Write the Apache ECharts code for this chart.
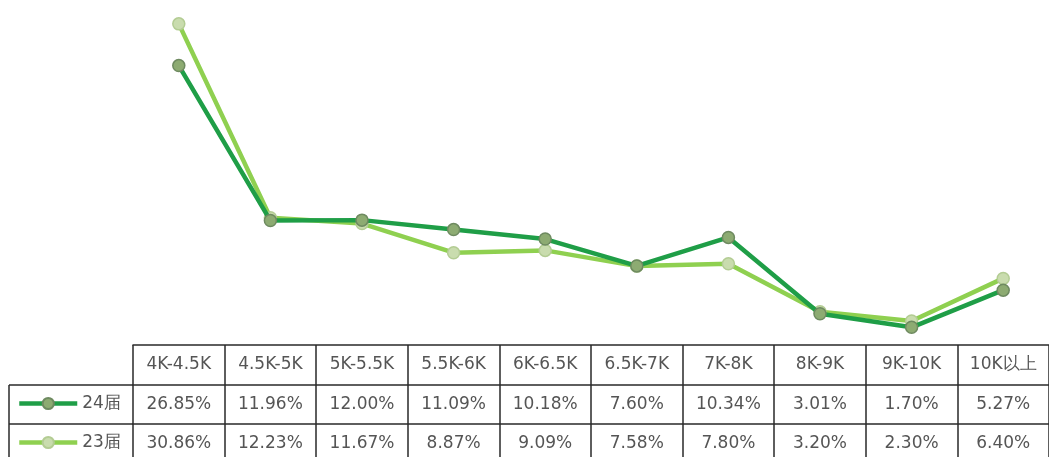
<!DOCTYPE html>
<html>
<head>
<meta charset="utf-8">
<script src="https://cdn.jsdelivr.net/npm/echarts@6/dist/echarts.min.js"></script>
<style>
html,body{margin:0;padding:0;background:#fff;}
#c{width:1049px;height:457px;}
</style>
</head>
<body>
<div id="c"></div>
<script>
var categories = ['4K-4.5K','4.5K-5K','5K-5.5K','5.5K-6K','6K-6.5K','6.5K-7K','7K-8K','8K-9K','9K-10K','10K以上'];
var seriesNames = ['24届','23届'];
var values24 = [26.85, 11.96, 12.00, 11.09, 10.18, 7.60, 10.34, 3.01, 1.70, 5.27];
var values23 = [30.86, 12.23, 11.67, 8.87, 9.09, 7.58, 7.80, 3.20, 2.30, 6.40];

function pct(v){ return v.toFixed(2) + '%'; }

var FONT = 'DejaVu Sans';
var lineColor = '#2a2a2a';
var colors = {
  line24: '#1f9e47', fill24: '#8dab72', border24: '#6e8a60',
  line23: '#8fd050', fill23: '#c9dcae', border23: '#b3cc93'
};

function tableAxis(offset, formatter, tickLen){
  return {
    type: 'category',
    data: categories,
    gridIndex: 0,
    position: 'bottom',
    offset: offset,
    boundaryGap: true,
    axisLine: {show: true, lineStyle: {color: lineColor, width: 1.5}},
    axisTick: {show: true, interval: 0, length: tickLen, lineStyle: {color: lineColor, width: 1.5}},
    axisLabel: {show: true, interval: 0, margin: 11, fontFamily: FONT, fontSize: 17, color: '#555', formatter: formatter},
    splitLine: {show: false}
  };
}

function legendFor(name, top, lc){
  return {
    orient: 'horizontal',
    left: 17,
    top: top,
    padding: 0,
    itemWidth: 58,
    itemHeight: 14,
    itemGap: 0,
    selectedMode: false,
    textStyle: {fontFamily: FONT, fontSize: 17, color: '#555'},
    lineStyle: {width: 4.5, color: lc},
    data: [name]
  };
}

var chart = echarts.init(document.getElementById('c'), null, {renderer: 'canvas'});
chart.setOption({
  animation: false,
  backgroundColor: '#ffffff',
  grid: {left: 133, right: -5, top: 12, bottom: 112, containLabel: false},
  xAxis: [
    tableAxis(0, function(v){ return v; }, 40),
    tableAxis(40, function(v, i){ return pct(values24[i]); }, 39),
    tableAxis(79, function(v, i){ return pct(values23[i]); }, 40)
  ],
  yAxis: {type: 'value', min: 0, max: 32, show: false, splitLine: {show: false}},
  legend: [
    legendFor(seriesNames[0], 395, colors.line24),
    legendFor(seriesNames[1], 434, colors.line23)
  ],
  graphic: [
    {type: 'line', shape: {x1: 9, y1: 385, x2: 133, y2: 385}, style: {stroke: lineColor, lineWidth: 1.5}},
    {type: 'line', shape: {x1: 9, y1: 424, x2: 133, y2: 424}, style: {stroke: lineColor, lineWidth: 1.5}},
    {type: 'line', shape: {x1: 9, y1: 385, x2: 9, y2: 457}, style: {stroke: lineColor, lineWidth: 1.5}}
  ],
  series: [
    {
      name: seriesNames[0],
      type: 'line',
      xAxisIndex: 0,
      data: values24,
      symbol: 'circle',
      symbolSize: 12,
      z: 3,
      lineStyle: {color: colors.line24, width: 4.5},
      itemStyle: {color: colors.fill24, borderColor: colors.border24, borderWidth: 1.5}
    },
    {
      name: seriesNames[1],
      type: 'line',
      xAxisIndex: 0,
      data: values23,
      symbol: 'circle',
      symbolSize: 12,
      z: 2,
      lineStyle: {color: colors.line23, width: 4.5},
      itemStyle: {color: colors.fill23, borderColor: colors.border23, borderWidth: 1.5}
    }
  ]
});
</script>
</body>
</html>
